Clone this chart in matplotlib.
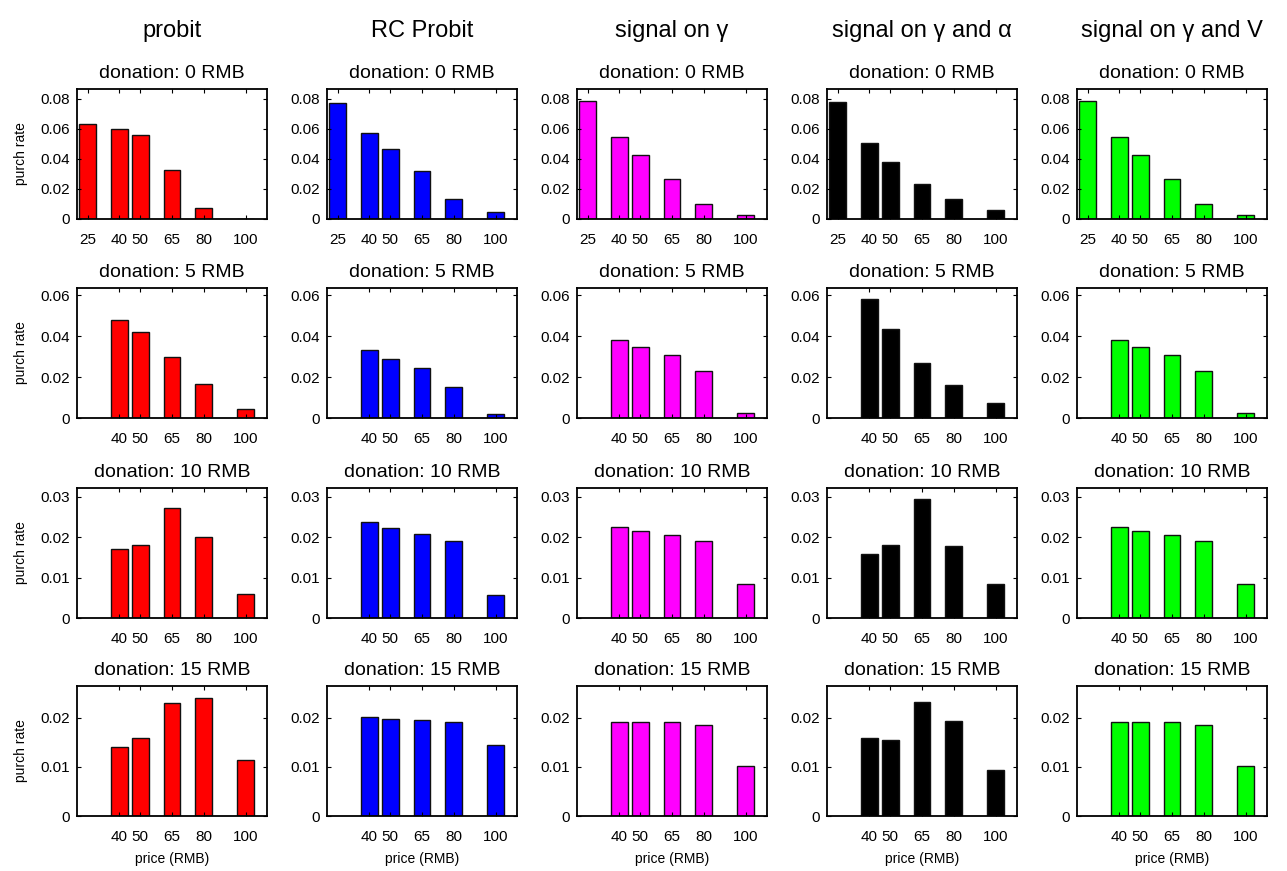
import matplotlib
matplotlib.use("Agg")
import matplotlib.pyplot as plt
import numpy as np

plt.rcParams['font.family'] = ['Liberation Sans', 'DejaVu Sans']

# prices offered and donation levels
prices_all = [25, 40, 50, 65, 80, 100]
prices_don = [40, 50, 65, 80, 100]
donations = [0, 5, 10, 15]

models = ['probit', 'RC Probit', 'signal on γ', 'signal on γ and α', 'signal on γ and V']
colors = ['#ff0000', '#0000ff', '#ff00ff', '#000000', '#00ff00']

# purchase rates, one list per model, one row per donation level
probit = [
    [0.0633, 0.0602, 0.0560, 0.0329, 0.0071, 0.0],
    [0.0480, 0.0421, 0.0300, 0.0167, 0.0043],
    [0.0171, 0.0181, 0.0271, 0.0201, 0.0059],
    [0.0140, 0.0159, 0.0230, 0.0239, 0.0114],
]
rc_probit = [
    [0.0771, 0.0571, 0.0469, 0.0320, 0.0136, 0.0047],
    [0.0333, 0.0290, 0.0244, 0.0152, 0.0018],
    [0.0237, 0.0222, 0.0207, 0.0190, 0.0057],
    [0.0202, 0.0198, 0.0194, 0.0191, 0.0144],
]
sig_gamma = [
    [0.0784, 0.0544, 0.0429, 0.0267, 0.0102, 0.0027],
    [0.0379, 0.0349, 0.0308, 0.0230, 0.0026],
    [0.0224, 0.0216, 0.0206, 0.0191, 0.0084],
    [0.0191, 0.0190, 0.0190, 0.0185, 0.0102],
]
sig_gamma_alpha = [
    [0.0776, 0.0509, 0.0378, 0.0231, 0.0136, 0.0062],
    [0.0579, 0.0433, 0.0267, 0.0161, 0.0075],
    [0.0158, 0.0181, 0.0293, 0.0177, 0.0085],
    [0.0158, 0.0154, 0.0231, 0.0193, 0.0093],
]
sig_gamma_v = [
    [0.0784, 0.0544, 0.0429, 0.0267, 0.0102, 0.0027],
    [0.0379, 0.0349, 0.0308, 0.0230, 0.0026],
    [0.0224, 0.0216, 0.0206, 0.0191, 0.0084],
    [0.0191, 0.0190, 0.0190, 0.0185, 0.0102],
]
rates = [probit, rc_probit, sig_gamma, sig_gamma_alpha, sig_gamma_v]

ylims = [0.0865, 0.0635, 0.0321, 0.0264]
yticks = [np.arange(0, 0.081, 0.02), np.arange(0, 0.061, 0.02),
          np.arange(0, 0.031, 0.01), np.arange(0, 0.021, 0.01)]

W, H = 1287, 871
fig = plt.figure(figsize=(W / 100, H / 100), dpi=100)

lefts = [77, 327, 577, 827, 1077]
tops = [89, 288, 488, 686]
aw, ah = 190, 130

for j, name in enumerate(models):
    fig.text((lefts[j] + aw / 2) / W, 1 - 31 / H, name, ha='center', va='center', fontsize=17)
    for i, don in enumerate(donations):
        ax = fig.add_axes([lefts[j] / W, 1 - (tops[i] + ah) / H, aw / W, ah / H])
        x = prices_all if i == 0 else prices_don
        ax.bar(x, rates[j][i], width=8, color=colors[j], edgecolor='#111111', linewidth=1.0)
        ax.set_xlim(20, 110)
        ax.set_xticks(x)
        ax.set_ylim(0, ylims[i])
        ax.set_yticks(yticks[i])
        ax.set_yticklabels(['0'] + ['%g' % v for v in yticks[i][1:]])
        ax.tick_params(direction='in', top=True, right=True, length=3, width=0.8,
                       labelsize=11)
        ax.tick_params(axis='x', pad=10)
        ax.tick_params(axis='y', pad=5)
        for s in ax.spines.values():
            s.set_linewidth(1.3)
        ax.set_title('donation: %d RMB' % don, fontsize=14, pad=8)
        if j == 0:
            ax.set_ylabel('purch rate', fontsize=10, labelpad=9)
        if i == 3:
            ax.set_xlabel('price (RMB)', fontsize=10, labelpad=6)

fig.savefig('out.png', dpi=100)
